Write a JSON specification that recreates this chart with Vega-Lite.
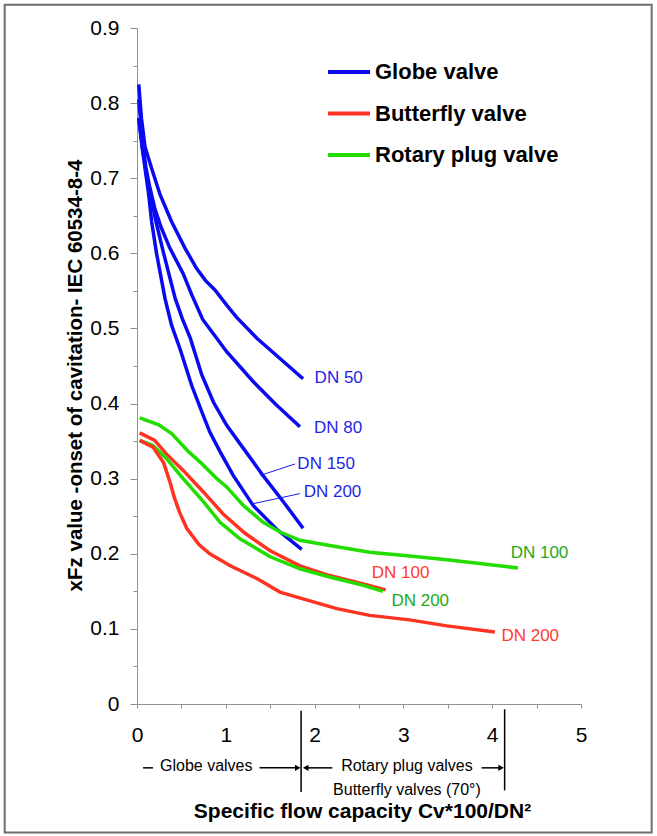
{
  "$schema": "https://vega.github.io/schema/vega-lite/v6.json",
  "width": 444,
  "height": 676,
  "autosize": "none",
  "padding": {"left": 137, "top": 28, "right": 76, "bottom": 132},
  "background": "white",
  "config": {"view": {"stroke": null}, "font": "Liberation Sans"},
  "datasets": {
    "curves": [
      {"s": "g50", "type": "Globe valve", "x": 0.02, "y": 0.825},
      {"s": "g50", "type": "Globe valve", "x": 0.05, "y": 0.78},
      {"s": "g50", "type": "Globe valve", "x": 0.09, "y": 0.742},
      {"s": "g50", "type": "Globe valve", "x": 0.165, "y": 0.713},
      {"s": "g50", "type": "Globe valve", "x": 0.26, "y": 0.678},
      {"s": "g50", "type": "Globe valve", "x": 0.39, "y": 0.642},
      {"s": "g50", "type": "Globe valve", "x": 0.54, "y": 0.607},
      {"s": "g50", "type": "Globe valve", "x": 0.67, "y": 0.58},
      {"s": "g50", "type": "Globe valve", "x": 0.77, "y": 0.564},
      {"s": "g50", "type": "Globe valve", "x": 0.88, "y": 0.551},
      {"s": "g50", "type": "Globe valve", "x": 1.01, "y": 0.531},
      {"s": "g50", "type": "Globe valve", "x": 1.12, "y": 0.515},
      {"s": "g50", "type": "Globe valve", "x": 1.35, "y": 0.487},
      {"s": "g50", "type": "Globe valve", "x": 1.61, "y": 0.46},
      {"s": "g50", "type": "Globe valve", "x": 1.87, "y": 0.433},
      {"s": "g80", "type": "Globe valve", "x": 0.02, "y": 0.805},
      {"s": "g80", "type": "Globe valve", "x": 0.06, "y": 0.75},
      {"s": "g80", "type": "Globe valve", "x": 0.1, "y": 0.715},
      {"s": "g80", "type": "Globe valve", "x": 0.14, "y": 0.69},
      {"s": "g80", "type": "Globe valve", "x": 0.2, "y": 0.66},
      {"s": "g80", "type": "Globe valve", "x": 0.27, "y": 0.635},
      {"s": "g80", "type": "Globe valve", "x": 0.37, "y": 0.607},
      {"s": "g80", "type": "Globe valve", "x": 0.52, "y": 0.573},
      {"s": "g80", "type": "Globe valve", "x": 0.616, "y": 0.545},
      {"s": "g80", "type": "Globe valve", "x": 0.74, "y": 0.512},
      {"s": "g80", "type": "Globe valve", "x": 1.01, "y": 0.469},
      {"s": "g80", "type": "Globe valve", "x": 1.31, "y": 0.429},
      {"s": "g80", "type": "Globe valve", "x": 1.57, "y": 0.398},
      {"s": "g80", "type": "Globe valve", "x": 1.835, "y": 0.369},
      {"s": "g150", "type": "Globe valve", "x": 0.02, "y": 0.78},
      {"s": "g150", "type": "Globe valve", "x": 0.06, "y": 0.74},
      {"s": "g150", "type": "Globe valve", "x": 0.1, "y": 0.71},
      {"s": "g150", "type": "Globe valve", "x": 0.14, "y": 0.685},
      {"s": "g150", "type": "Globe valve", "x": 0.214, "y": 0.642},
      {"s": "g150", "type": "Globe valve", "x": 0.3, "y": 0.6},
      {"s": "g150", "type": "Globe valve", "x": 0.43, "y": 0.54},
      {"s": "g150", "type": "Globe valve", "x": 0.51, "y": 0.513},
      {"s": "g150", "type": "Globe valve", "x": 0.6, "y": 0.487},
      {"s": "g150", "type": "Globe valve", "x": 0.73, "y": 0.438},
      {"s": "g150", "type": "Globe valve", "x": 0.86, "y": 0.402},
      {"s": "g150", "type": "Globe valve", "x": 1.01, "y": 0.371},
      {"s": "g150", "type": "Globe valve", "x": 1.2, "y": 0.34},
      {"s": "g150", "type": "Globe valve", "x": 1.42, "y": 0.304},
      {"s": "g150", "type": "Globe valve", "x": 1.65, "y": 0.269},
      {"s": "g150", "type": "Globe valve", "x": 1.87, "y": 0.234},
      {"s": "g200", "type": "Globe valve", "x": 0.02, "y": 0.78},
      {"s": "g200", "type": "Globe valve", "x": 0.06, "y": 0.74},
      {"s": "g200", "type": "Globe valve", "x": 0.1, "y": 0.705},
      {"s": "g200", "type": "Globe valve", "x": 0.13, "y": 0.68},
      {"s": "g200", "type": "Globe valve", "x": 0.165, "y": 0.642},
      {"s": "g200", "type": "Globe valve", "x": 0.22, "y": 0.6},
      {"s": "g200", "type": "Globe valve", "x": 0.315, "y": 0.54},
      {"s": "g200", "type": "Globe valve", "x": 0.39, "y": 0.504},
      {"s": "g200", "type": "Globe valve", "x": 0.484, "y": 0.473},
      {"s": "g200", "type": "Globe valve", "x": 0.616, "y": 0.424},
      {"s": "g200", "type": "Globe valve", "x": 0.73, "y": 0.389},
      {"s": "g200", "type": "Globe valve", "x": 0.82, "y": 0.362},
      {"s": "g200", "type": "Globe valve", "x": 0.935, "y": 0.336},
      {"s": "g200", "type": "Globe valve", "x": 1.085, "y": 0.304},
      {"s": "g200", "type": "Globe valve", "x": 1.31, "y": 0.264},
      {"s": "g200", "type": "Globe valve", "x": 1.57, "y": 0.233},
      {"s": "g200", "type": "Globe valve", "x": 1.855, "y": 0.206},
      {"s": "r100", "type": "Rotary plug valve", "x": 0.03, "y": 0.381},
      {"s": "r100", "type": "Rotary plug valve", "x": 0.24, "y": 0.372},
      {"s": "r100", "type": "Rotary plug valve", "x": 0.39, "y": 0.36},
      {"s": "r100", "type": "Rotary plug valve", "x": 0.58, "y": 0.336},
      {"s": "r100", "type": "Rotary plug valve", "x": 0.73, "y": 0.32},
      {"s": "r100", "type": "Rotary plug valve", "x": 0.9, "y": 0.3},
      {"s": "r100", "type": "Rotary plug valve", "x": 1.01, "y": 0.289},
      {"s": "r100", "type": "Rotary plug valve", "x": 1.2, "y": 0.264},
      {"s": "r100", "type": "Rotary plug valve", "x": 1.42, "y": 0.242},
      {"s": "r100", "type": "Rotary plug valve", "x": 1.61, "y": 0.229},
      {"s": "r100", "type": "Rotary plug valve", "x": 1.835, "y": 0.218},
      {"s": "r100", "type": "Rotary plug valve", "x": 2.17, "y": 0.211},
      {"s": "r100", "type": "Rotary plug valve", "x": 2.62, "y": 0.202},
      {"s": "r100", "type": "Rotary plug valve", "x": 3.07, "y": 0.197},
      {"s": "r100", "type": "Rotary plug valve", "x": 3.49, "y": 0.192},
      {"s": "r100", "type": "Rotary plug valve", "x": 3.86, "y": 0.187},
      {"s": "r100", "type": "Rotary plug valve", "x": 4.29, "y": 0.181},
      {"s": "b100", "type": "Butterfly valve", "x": 0.03, "y": 0.361},
      {"s": "b100", "type": "Butterfly valve", "x": 0.2, "y": 0.351},
      {"s": "b100", "type": "Butterfly valve", "x": 0.33, "y": 0.333},
      {"s": "b100", "type": "Butterfly valve", "x": 0.52, "y": 0.311},
      {"s": "b100", "type": "Butterfly valve", "x": 0.75, "y": 0.282},
      {"s": "b100", "type": "Butterfly valve", "x": 0.97, "y": 0.253},
      {"s": "b100", "type": "Butterfly valve", "x": 1.22, "y": 0.227},
      {"s": "b100", "type": "Butterfly valve", "x": 1.5, "y": 0.204},
      {"s": "b100", "type": "Butterfly valve", "x": 1.835, "y": 0.184},
      {"s": "b100", "type": "Butterfly valve", "x": 2.17, "y": 0.171},
      {"s": "b100", "type": "Butterfly valve", "x": 2.55, "y": 0.16},
      {"s": "b100", "type": "Butterfly valve", "x": 2.8, "y": 0.152},
      {"s": "r200", "type": "Rotary plug valve", "x": 0.03, "y": 0.351},
      {"s": "r200", "type": "Rotary plug valve", "x": 0.18, "y": 0.344},
      {"s": "r200", "type": "Rotary plug valve", "x": 0.33, "y": 0.327},
      {"s": "r200", "type": "Rotary plug valve", "x": 0.52, "y": 0.3},
      {"s": "r200", "type": "Rotary plug valve", "x": 0.75, "y": 0.269},
      {"s": "r200", "type": "Rotary plug valve", "x": 0.935, "y": 0.242},
      {"s": "r200", "type": "Rotary plug valve", "x": 1.16, "y": 0.22},
      {"s": "r200", "type": "Rotary plug valve", "x": 1.5, "y": 0.196},
      {"s": "r200", "type": "Rotary plug valve", "x": 1.835, "y": 0.18},
      {"s": "r200", "type": "Rotary plug valve", "x": 2.17, "y": 0.169},
      {"s": "r200", "type": "Rotary plug valve", "x": 2.55, "y": 0.158},
      {"s": "r200", "type": "Rotary plug valve", "x": 2.77, "y": 0.15},
      {"s": "b200", "type": "Butterfly valve", "x": 0.03, "y": 0.351},
      {"s": "b200", "type": "Butterfly valve", "x": 0.18, "y": 0.342},
      {"s": "b200", "type": "Butterfly valve", "x": 0.3, "y": 0.321},
      {"s": "b200", "type": "Butterfly valve", "x": 0.37, "y": 0.296},
      {"s": "b200", "type": "Butterfly valve", "x": 0.42, "y": 0.275},
      {"s": "b200", "type": "Butterfly valve", "x": 0.48, "y": 0.255},
      {"s": "b200", "type": "Butterfly valve", "x": 0.56, "y": 0.234},
      {"s": "b200", "type": "Butterfly valve", "x": 0.7, "y": 0.212},
      {"s": "b200", "type": "Butterfly valve", "x": 0.82, "y": 0.2},
      {"s": "b200", "type": "Butterfly valve", "x": 1.05, "y": 0.184},
      {"s": "b200", "type": "Butterfly valve", "x": 1.35, "y": 0.167},
      {"s": "b200", "type": "Butterfly valve", "x": 1.61, "y": 0.149},
      {"s": "b200", "type": "Butterfly valve", "x": 1.87, "y": 0.14},
      {"s": "b200", "type": "Butterfly valve", "x": 2.25, "y": 0.127},
      {"s": "b200", "type": "Butterfly valve", "x": 2.62, "y": 0.118},
      {"s": "b200", "type": "Butterfly valve", "x": 3.07, "y": 0.112},
      {"s": "b200", "type": "Butterfly valve", "x": 3.49, "y": 0.104},
      {"s": "b200", "type": "Butterfly valve", "x": 4.03, "y": 0.096}
    ],
    "labels": [
      {"t": "DN 50", "type": "Globe valve", "x": 2.0, "y": 0.434},
      {"t": "DN 80", "type": "Globe valve", "x": 1.993, "y": 0.3675},
      {"t": "DN 150", "type": "Globe valve", "x": 1.806, "y": 0.3196},
      {"t": "DN 200", "type": "Globe valve", "x": 1.877, "y": 0.2824},
      {"t": "DN 100", "type": "Rotary plug valve", "x": 4.208, "y": 0.2016},
      {"t": "DN 100", "type": "Butterfly valve", "x": 2.643, "y": 0.1746},
      {"t": "DN 200", "type": "Rotary plug valve", "x": 2.865, "y": 0.1368},
      {"t": "DN 200", "type": "Butterfly valve", "x": 4.104, "y": 0.0911}
    ],
    "leaders": [
      {"x": 1.78, "y": 0.3196, "x2": 1.39, "y2": 0.3044},
      {"x": 1.835, "y": 0.2801, "x2": 1.314, "y2": 0.2668}
    ],
    "dividers": [
      {"x": 1.848, "y": -0.009, "y2": -0.117},
      {"x": 4.14, "y": -0.007, "y2": -0.115}
    ],
    "notes": [
      {"t": "Globe valves", "x": 0.78, "y": -0.0825},
      {"t": "Rotary plug valves", "x": 3.04, "y": -0.0825},
      {"t": "Butterfly valves (70°)", "x": 3.04, "y": -0.114}
    ],
    "segments": [
      {"x": 0.068, "x2": 0.18, "y": -0.085},
      {"x": 1.38, "x2": 1.82, "y": -0.085},
      {"x": 1.89, "x2": 2.2, "y": -0.085},
      {"x": 3.88, "x2": 4.11, "y": -0.085}
    ],
    "heads": [
      {"x": 1.81, "y": -0.085, "dir": "right"},
      {"x": 1.9, "y": -0.085, "dir": "left"},
      {"x": 4.1, "y": -0.085, "dir": "right"}
    ],
    "frame": [
      {"x": -1.49, "x2": 5.796, "y": 0.931, "y2": -0.171}
    ]
  },
  "encoding": {
    "x": {
      "field": "x", "type": "quantitative",
      "scale": {"domain": [0, 5], "nice": false, "zero": false},
      "axis": {
        "values": [0, 0.5, 1, 1.5, 2, 2.5, 3, 3.5, 4, 4.5, 5],
        "labelExpr": "datum.value % 1 == 0 ? format(datum.value, 'd') : ''",
        "labelFlush": false,
        "grid": false,
        "domainColor": "#909090",
        "tickColor": "#909090",
        "tickSize": 4,
        "labelFontSize": 21,
        "labelColor": "black",
        "labelPadding": 16,
        "title": "Specific flow capacity Cv*100/DN²",
        "titleFontSize": 21,
        "titleFontWeight": "bold",
        "titleColor": "black",
        "titleX": 225,
        "titleY": 113,
        "titleAlign": "center",
        "titleBaseline": "alphabetic"
      }
    },
    "y": {
      "field": "y", "type": "quantitative",
      "scale": {"domain": [0, 0.9], "nice": false, "zero": false},
      "axis": {
        "values": [0, 0.05, 0.1, 0.15, 0.2, 0.25, 0.3, 0.35, 0.4, 0.45, 0.5, 0.55, 0.6, 0.65, 0.7, 0.75, 0.8, 0.85, 0.9],
        "labelExpr": "abs(datum.value*10 - round(datum.value*10)) < 0.001 ? (datum.value == 0 ? '0' : format(datum.value, '.1f')) : ''",
        "grid": false,
        "domainColor": "#909090",
        "tickColor": "#909090",
        "tickSize": {"condition": {"test": "abs(datum.value*10 - round(datum.value*10)) < 0.001", "value": 7}, "value": 4},
        "labelFontSize": 21,
        "labelColor": "black",
        "labelPadding": 11,
        "title": "xFz value -onset of cavitation- IEC 60534-8-4",
        "titleFontSize": 20.5,
        "titleFontWeight": "bold",
        "titleColor": "black",
        "titleAngle": 270,
        "titleX": -56,
        "titleY": 347,
        "titleAlign": "center",
        "titleBaseline": "alphabetic"
      }
    }
  },
  "layer": [
    {
      "data": {"name": "frame"},
      "mark": {"type": "rect", "fillOpacity": 0, "stroke": "#6e6e6e", "strokeWidth": 2},
      "encoding": {"x2": {"field": "x2"}, "y2": {"field": "y2"}}
    },
    {
      "data": {"name": "curves"},
      "mark": {"type": "line", "strokeWidth": 3.5, "strokeCap": "butt"},
      "encoding": {
        "detail": {"field": "s"},
        "color": {
          "field": "type", "type": "nominal",
          "scale": {"domain": ["Globe valve", "Butterfly valve", "Rotary plug valve"], "range": ["#0a0af2", "#ff3322", "#22dd00"]},
          "legend": {
            "orient": "none", "legendX": 189, "legendY": 21, "title": null,
            "symbolType": "stroke", "symbolSize": 1764, "symbolStrokeWidth": 4,
            "labelFontSize": 22, "labelFontWeight": "bold", "labelColor": "black", "labelLimit": 0,
            "padding": 0, "rowPadding": 7.5, "labelOffset": 3
          }
        }
      }
    },
    {
      "data": {"name": "leaders"},
      "mark": {"type": "rule", "color": "#1a1ae8", "strokeWidth": 1},
      "encoding": {"x2": {"field": "x2"}, "y2": {"field": "y2"}}
    },
    {
      "data": {"name": "labels"},
      "transform": [{"filter": "datum.type == 'Globe valve'"}],
      "mark": {"type": "text", "align": "left", "baseline": "middle", "fontSize": 17, "color": "#1f1fe6"},
      "encoding": {"text": {"field": "t"}}
    },
    {
      "data": {"name": "labels"},
      "transform": [{"filter": "datum.type == 'Butterfly valve'"}],
      "mark": {"type": "text", "align": "left", "baseline": "middle", "fontSize": 17, "color": "#ff3b30"},
      "encoding": {"text": {"field": "t"}}
    },
    {
      "data": {"name": "labels"},
      "transform": [{"filter": "datum.type == 'Rotary plug valve'"}],
      "mark": {"type": "text", "align": "left", "baseline": "middle", "fontSize": 17, "color": "#22aa1a"},
      "encoding": {"text": {"field": "t"}}
    },
    {
      "data": {"name": "dividers"},
      "mark": {"type": "rule", "color": "black", "strokeWidth": 1.5},
      "encoding": {"y2": {"field": "y2"}}
    },
    {
      "data": {"name": "segments"},
      "mark": {"type": "rule", "color": "black", "strokeWidth": 1.5},
      "encoding": {"x2": {"field": "x2"}}
    },
    {
      "data": {"name": "heads"},
      "mark": {"type": "point", "filled": true, "color": "black", "size": 40, "opacity": 1},
      "encoding": {
        "shape": {"field": "dir", "type": "nominal", "scale": {"domain": ["right", "left"], "range": ["triangle-right", "triangle-left"]}, "legend": null}
      }
    },
    {
      "data": {"name": "notes"},
      "mark": {"type": "text", "align": "center", "baseline": "middle", "fontSize": 16, "color": "black"},
      "encoding": {"text": {"field": "t"}}
    }
  ]
}
